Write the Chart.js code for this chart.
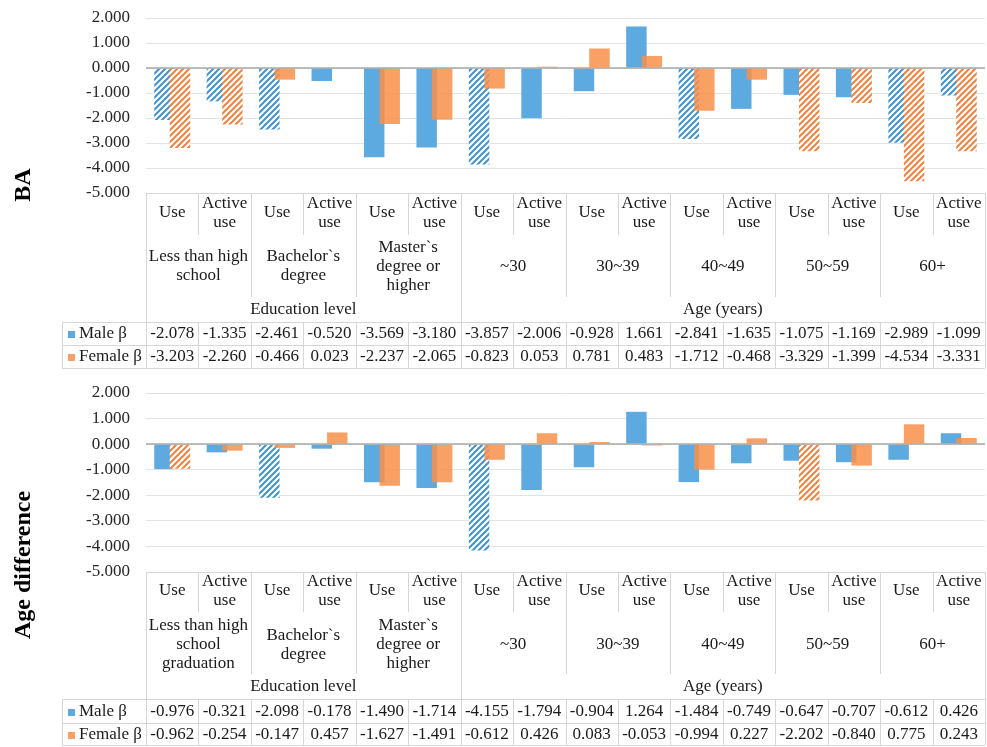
<!DOCTYPE html>
<html>
<head>
<meta charset="utf-8">
<script src="https://cdn.jsdelivr.net/npm/chart.js@4.4.1/dist/chart.umd.min.js"></script>
<style>
  html, body { margin: 0; padding: 0; background: #ffffff; }
  #wrap { position: relative; width: 987px; height: 747px; overflow: hidden; }
  .panel { position: absolute; left: 0; width: 987px; height: 372px; }
  #p1 { top: 0; }
  #p2 { top: 375px; }
</style>
</head>
<body>
<div id="wrap">
  <div class="panel" id="p1"><canvas id="c1" width="987" height="372"></canvas></div>
  <div class="panel" id="p2"><canvas id="c2" width="987" height="372"></canvas></div>
</div>
<script>
// ---- categories and labels ----
const categories = ['Use', 'Active use', 'Use', 'Active use', 'Use', 'Active use', 'Use', 'Active use',
                    'Use', 'Active use', 'Use', 'Active use', 'Use', 'Active use', 'Use', 'Active use'];
const baGroups = ['Less than high\nschool', 'Bachelor`s\ndegree', 'Master`s\ndegree or\nhigher',
                  '~30', '30~39', '40~49', '50~59', '60+'];
const ageGroups = ['Less than high\nschool\ngraduation', 'Bachelor`s\ndegree', 'Master`s\ndegree or\nhigher',
                   '~30', '30~39', '40~49', '50~59', '60+'];
const superGroups = ['Education level', 'Age (years)'];
const superGroupSpans = [3, 5];            // number of groups under each heading
const seriesNames = ['Male β', 'Female β'];
const yTickValues = [-5, -4, -3, -2, -1, 0, 1, 2];

// ---- BA ----
const baMale   = [-2.078, -1.335, -2.461, -0.520, -3.569, -3.180, -3.857, -2.006,
                  -0.928, 1.661, -2.841, -1.635, -1.075, -1.169, -2.989, -1.099];
const baFemale = [-3.203, -2.260, -0.466, 0.023, -2.237, -2.065, -0.823, 0.053,
                  0.781, 0.483, -1.712, -0.468, -3.329, -1.399, -4.534, -3.331];
const baMaleHatched   = [1, 1, 1, 0, 0, 0, 1, 0, 0, 0, 1, 0, 0, 0, 1, 1];
const baFemaleHatched = [1, 1, 0, 0, 0, 0, 0, 0, 0, 0, 0, 0, 1, 1, 1, 1];

// ---- Age difference ----
const ageMale   = [-0.976, -0.321, -2.098, -0.178, -1.490, -1.714, -4.155, -1.794,
                   -0.904, 1.264, -1.484, -0.749, -0.647, -0.707, -0.612, 0.426];
const ageFemale = [-0.962, -0.254, -0.147, 0.457, -1.627, -1.491, -0.612, 0.426,
                   0.083, -0.053, -0.994, 0.227, -2.202, -0.840, 0.775, 0.243];
const ageMaleHatched   = [0, 0, 1, 0, 0, 0, 1, 0, 0, 0, 0, 0, 0, 0, 0, 0];
const ageFemaleHatched = [1, 0, 0, 0, 0, 0, 0, 0, 0, 0, 0, 0, 1, 0, 0, 0];

// ---- styling ----
const FONT = "'Liberation Serif', 'Times New Roman', serif";
const BLUE = '#5DAAE0';
const ORANGE = 'rgba(248,143,73,0.85)';
const BLUE_KEY = '#5DAAE0';
const ORANGE_KEY = '#F9A064';
const BLUE_STRIPE = '#3F93D0';
const ORANGE_STRIPE = '#F0823E';
const TEXT = '#1a1a1a';
const RULE = '#d6d6d6';

function makeHatch(ctx, color) {
  const s = 6;
  const c = document.createElement('canvas');
  c.width = s; c.height = s;
  const g = c.getContext('2d');
  g.fillStyle = '#ffffff';
  g.fillRect(0, 0, s, s);
  g.strokeStyle = color;
  g.lineWidth = 2;
  g.beginPath();
  g.moveTo(0, s); g.lineTo(s, 0);
  g.moveTo(-1, 1); g.lineTo(1, -1);
  g.moveTo(s - 1, s + 1); g.lineTo(s + 1, s - 1);
  g.stroke();
  return ctx.createPattern(c, 'repeat');
}

// Draws the multi-level category header, the value table and the side title.
function tableAxisPlugin(cfg) {
  return {
    id: 'tableAxis',
    beforeDatasetDraw(chart, args) {
      // the female series is painted afterwards so it sits over the male bars
      if (args.index === 1) return false;
    },
    afterDatasetsDraw(chart) {
      chart.getDatasetMeta(1).controller.draw();
      const ctx = chart.ctx, ca = chart.chartArea;
      const y0 = Math.round(chart.scales.y.getPixelForValue(0));
      ctx.save();
      ctx.strokeStyle = '#a8a8a8';
      ctx.lineWidth = 1.5;
      ctx.beginPath();
      ctx.moveTo(ca.left, y0);
      ctx.lineTo(ca.right, y0);
      ctx.stroke();
      ctx.restore();
    },
    afterDraw(chart) {
      const ctx = chart.ctx, xs = chart.scales.x, ca = chart.chartArea;
      const n = chart.data.labels.length;
      const colW = xs.getPixelForValue(1) - xs.getPixelForValue(0);
      const edge = i => xs.getPixelForValue(0) - colW / 2 + i * colW;
      const B = Math.round(ca.bottom);
      const R = cfg.rows;
      const tableLeft = 62;

      ctx.save();
      // rules
      ctx.strokeStyle = RULE;
      ctx.lineWidth = 1;
      const hLine = (x1, x2, y) => { ctx.beginPath(); ctx.moveTo(x1, Math.round(y) + 0.5); ctx.lineTo(x2, Math.round(y) + 0.5); ctx.stroke(); };
      const vLine = (x, y1, y2) => { ctx.beginPath(); ctx.moveTo(Math.round(x) + 0.5, y1); ctx.lineTo(Math.round(x) + 0.5, y2); ctx.stroke(); };

      hLine(edge(0), edge(n), B);
      hLine(tableLeft, edge(n), B + R.line1);
      hLine(tableLeft, edge(n), B + R.line2);
      hLine(tableLeft, edge(n), B + R.line3);
      vLine(tableLeft, B + R.line1, B + R.line3);

      const superEdges = [];
      let acc = 0;
      superGroupSpans.forEach(s => { acc += s * 2; superEdges.push(acc); });
      for (let i = 0; i <= n; i++) {
        const x = edge(i);
        let end;
        if (i === 0 || i === n || superEdges.includes(i)) end = B + R.line3;
        else if (i % 2 === 0) { end = B + R.groupEnd; vLine(x, B + R.line1, B + R.line3); }
        else { end = B + R.colEnd; vLine(x, B + R.line1, B + R.line3); }
        vLine(x, B, end);
      }

      // header text
      ctx.fillStyle = TEXT;
      ctx.font = '17px ' + FONT;
      ctx.textAlign = 'center';
      ctx.textBaseline = 'middle';
      const LH = 19;
      chart.data.labels.forEach((lab, i) => {
        const lines = lab.split(' ');
        const cx = xs.getPixelForValue(i);
        const top = B + R.colText - (lines.length - 1) * LH / 2;
        lines.forEach((t, k) => ctx.fillText(t, cx, top + k * LH));
      });
      cfg.groups.forEach((g, gi) => {
        const lines = g.split('\n');
        const cx = (edge(gi * 2) + edge(gi * 2 + 2)) / 2;
        const top = B + R.groupText - (lines.length - 1) * LH / 2;
        lines.forEach((t, k) => ctx.fillText(t, cx, top + k * LH));
      });
      let start = 0;
      superGroups.forEach((s, si) => {
        const stop = start + superGroupSpans[si] * 2;
        ctx.fillText(s, (edge(start) + edge(stop)) / 2, B + R.superText);
        start = stop;
      });

      // value rows
      const rowsY = [B + (R.line1 + R.line2) / 2 + 0.5, B + (R.line2 + R.line3) / 2 + 0.5];
      chart.data.datasets.forEach((ds, di) => {
        const y = rowsY[di];
        ctx.fillStyle = di === 0 ? BLUE_KEY : ORANGE_KEY;
        ctx.fillRect(68, Math.round(y) - 3, 7, 7);
        ctx.fillStyle = TEXT;
        ctx.textAlign = 'left';
        ctx.fillText(seriesNames[di], 79, y);
        ctx.textAlign = 'center';
        ds.data.forEach((v, i) => ctx.fillText(v.toFixed(3), xs.getPixelForValue(i), y));
      });

      // side title
      ctx.font = 'bold 24px ' + FONT;
      ctx.fillStyle = '#000000';
      ctx.translate(30, cfg.titleY);
      ctx.rotate(-Math.PI / 2);
      ctx.textAlign = 'center';
      ctx.textBaseline = 'alphabetic';
      ctx.fillText(cfg.title, 0, 0);
      ctx.restore();
    }
  };
}

function buildChart(canvasId, male, female, maleHatched, femaleHatched, cfg) {
  const canvas = document.getElementById(canvasId);
  const ctx = canvas.getContext('2d');
  const blueHatch = makeHatch(ctx, BLUE_STRIPE);
  const orangeHatch = makeHatch(ctx, ORANGE_STRIPE);
  return new Chart(ctx, {
    type: 'bar',
    data: {
      labels: categories,
      datasets: [
        {
          label: seriesNames[0],
          data: male,
          backgroundColor: male.map((v, i) => maleHatched[i] ? blueHatch : BLUE),
          borderWidth: 0,
          categoryPercentage: 0.591,
          barPercentage: 1.32
        },
        {
          label: seriesNames[1],
          data: female,
          backgroundColor: female.map((v, i) => femaleHatched[i] ? orangeHatch : ORANGE),
          borderWidth: 0,
          categoryPercentage: 0.591,
          barPercentage: 1.32
        }
      ]
    },
    options: {
      responsive: false,
      animation: false,
      events: [],
      layout: { padding: { left: 0, right: 2, top: cfg.top, bottom: 372 - cfg.bottom } },
      plugins: { legend: { display: false }, tooltip: { enabled: false } },
      scales: {
        x: { display: false },
        y: {
          min: Math.min(...yTickValues),
          max: Math.max(...yTickValues),
          afterFit(scale) {
            scale.width = 146;
            // the layout padding alone decides where the plot starts and ends
            scale.paddingTop = 0;
            scale.paddingBottom = 0;
          },
          afterBuildTicks(scale) { scale.ticks = yTickValues.map(v => ({ value: v })); },
          ticks: {
            callback: v => Number(v).toFixed(3),
            font: { family: FONT, size: 17 },
            color: '#262626',
            padding: 16
          },
          grid: { color: '#e3e3e3', drawTicks: false, lineWidth: 1 },
          border: { display: false }
        }
      }
    },
    plugins: [tableAxisPlugin(cfg)]
  });
}

buildChart('c1', baMale, baFemale, baMaleHatched, baFemaleHatched, {
  title: 'BA', titleY: 185, top: 18, bottom: 193, groups: baGroups,
  rows: { colText: 20, colEnd: 42, groupText: 73.5, groupEnd: 104, superText: 117, line1: 129, line2: 152, line3: 175 }
});
buildChart('c2', ageMale, ageFemale, ageMaleHatched, ageFemaleHatched, {
  title: 'Age difference', titleY: 190, top: 18, bottom: 197, groups: ageGroups,
  rows: { colText: 19, colEnd: 40, groupText: 73, groupEnd: 102, superText: 115, line1: 127, line2: 151, line3: 173 }
});
</script>
</body>
</html>
